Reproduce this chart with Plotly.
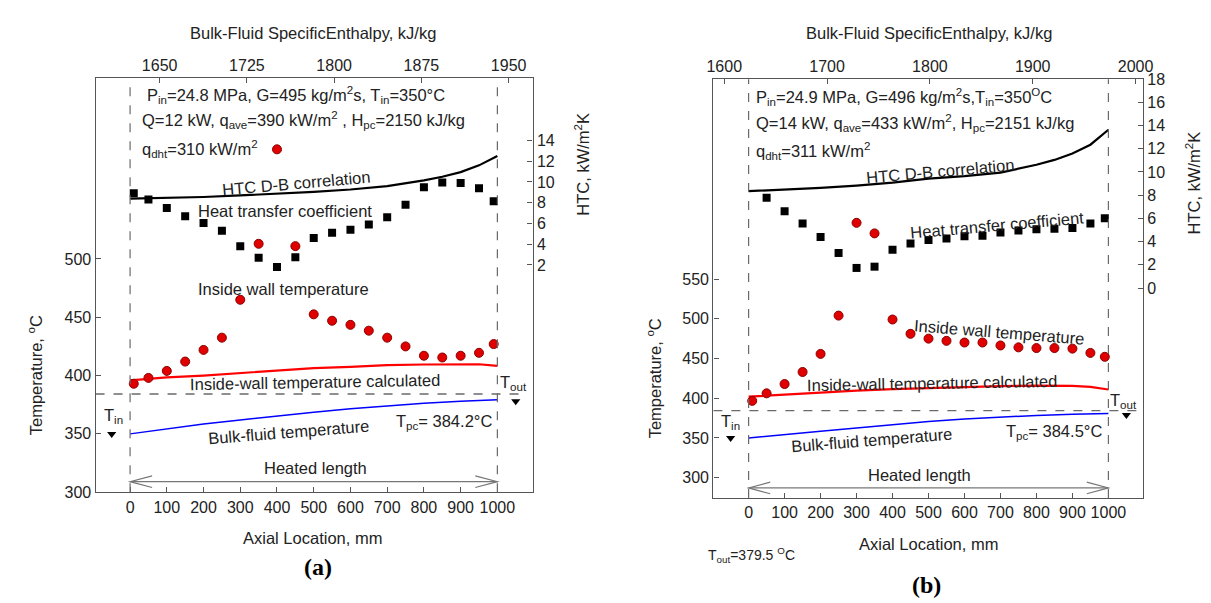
import plotly.graph_objects as go

W, H = 1211, 603

# ---------------- data: panel (a) ----------------
A_X_PTS = [10, 50, 100, 150, 200, 250, 300, 350, 400, 450, 500, 550, 600, 650, 700, 750, 800, 850, 900, 950, 990]
A_HTC = [8.9, 8.3, 7.5, 6.7, 6.05, 5.3, 3.8, 2.7, 1.8, 2.75, 4.6, 5.1, 5.4, 5.9, 6.6, 7.8, 9.5, 9.95, 9.9, 9.4, 8.15]
A_TW = [393, 398, 404, 412, 422, 432.5, 465, 513, 594, 511, 452.5, 447, 443.5, 438.5, 432.5, 425, 417, 415.5, 417, 419.5, 427]
A_LINE_X = [0, 100, 200, 300, 400, 500, 600, 700, 800, 850, 900, 950, 1000]
A_DB = [8.39, 8.45, 8.55, 8.7, 8.86, 9.05, 9.27, 9.6, 10.15, 10.5, 10.95, 11.6, 12.5]
A_TW_CALC = [395.8, 398.5, 400, 402.2, 404.2, 406.4, 407.5, 408.9, 409.5, 409.4, 409.2, 409.7, 408.3]
A_BULK_X = [0, 100, 200, 300, 400, 500, 600, 700, 800, 900, 1000]
A_BULK = [350, 354.5, 358.5, 362, 365.5, 368.6, 371.5, 374, 376.2, 378, 379.2]
A_TPC = 384.2
A_TIN, A_TOUT = 350, 378
A_ENTH_TICKS = [1650, 1725, 1800, 1875, 1950]

# ---------------- data: panel (b) ----------------
B_X_HTC = [50, 100, 150, 200, 250, 300, 350, 400, 450, 500, 550, 600, 650, 700, 750, 800, 850, 900, 950, 990]
B_HTC = [7.77, 6.62, 5.56, 4.39, 3.02, 1.73, 1.84, 3.3, 3.83, 4.14, 4.27, 4.47, 4.5, 4.78, 4.95, 5.06, 5.11, 5.17, 5.56, 6.01]
B_X_TW = [10, 50, 100, 150, 200, 250, 300, 350, 400, 450, 500, 550, 600, 650, 700, 750, 800, 850, 900, 950, 990]
B_TW = [396.7, 406.2, 417.9, 433.1, 455.9, 504.1, 621, 607.7, 499.2, 481.2, 475.1, 472.3, 470.2, 470.2, 466.5, 464.1, 463.2, 463.2, 462.5, 457.1, 452.2]
B_LINE_X = [0, 100, 200, 300, 400, 500, 600, 700, 800, 850, 900, 950, 1000]
B_DB = [8.35, 8.47, 8.63, 8.83, 9.08, 9.42, 9.64, 9.95, 10.62, 11.04, 11.6, 12.35, 13.64]
B_TW_CALC = [402, 404.5, 407.4, 409.5, 411.4, 413, 414.3, 415.3, 416, 415.8, 415.5, 414.3, 411]
B_BULK_X = [0, 100, 200, 300, 400, 500, 600, 700, 800, 900, 1000]
B_BULK = [349.8, 354.5, 358.5, 362.5, 366.8, 370.6, 373.7, 376.3, 378.4, 379.8, 380.8]
B_TPC = 384.5
B_TIN, B_TOUT = 350, 379
B_ENTH_TICKS = [1600, 1700, 1800, 1900, 2000]

AXIAL_TICKS = list(range(0, 1001, 100))
HEATED = [0, 1000]
T_IN_X, T_OUT_X = -50, 1050

FONT = "Liberation Sans, Arial, sans-serif"
FRAME = "#555555"
DASH = "#6a6a6a"

fig = go.Figure()


def add_panel(fig, xb, xt, yl, yr, pts_x, htc, tw_x, tw, line_x, db, twc, bulk_x, bulk, tin, tout, enth_ticks):
    fig.add_trace(go.Scatter(x=line_x, y=db, xaxis=xb, yaxis=yr, mode="lines",
                             line=dict(color="black", width=2.2), hoverinfo="skip", showlegend=False))
    fig.add_trace(go.Scatter(x=pts_x, y=htc, xaxis=xb, yaxis=yr, mode="markers",
                             marker=dict(symbol="square", size=8, color="black"), showlegend=False))
    fig.add_trace(go.Scatter(x=line_x, y=twc, xaxis=xb, yaxis=yl, mode="lines",
                             line=dict(color="#ff0000", width=2.2), showlegend=False))
    fig.add_trace(go.Scatter(x=bulk_x, y=bulk, xaxis=xb, yaxis=yl, mode="lines",
                             line=dict(color="#0000ff", width=1.5), showlegend=False))
    fig.add_trace(go.Scatter(x=tw_x, y=tw, xaxis=xb, yaxis=yl, mode="markers",
                             marker=dict(symbol="circle", size=9, color="#e00000",
                                         line=dict(color="#8b0000", width=1)), showlegend=False))
    fig.add_trace(go.Scatter(x=[T_IN_X, T_OUT_X], y=[tin, tout], xaxis=xb, yaxis=yl, mode="markers",
                             marker=dict(symbol="triangle-down", size=8, color="black"), showlegend=False))
    # invisible trace so the top enthalpy axis is drawn
    fig.add_trace(go.Scatter(x=[enth_ticks[0], enth_ticks[-1]], y=[None, None], xaxis=xt, yaxis=yl,
                             mode="markers", marker=dict(opacity=0), hoverinfo="skip", showlegend=False))


add_panel(fig, "x", "x2", "y", "y2", A_X_PTS, A_HTC, A_X_PTS, A_TW, A_LINE_X, A_DB, A_TW_CALC,
          A_BULK_X, A_BULK, A_TIN, A_TOUT, A_ENTH_TICKS)
add_panel(fig, "x3", "x4", "y3", "y4", B_X_HTC, B_HTC, B_X_TW, B_TW, B_LINE_X, B_DB, B_TW_CALC,
          B_BULK_X, B_BULK, B_TIN, B_TOUT, B_ENTH_TICKS)

tickfont = dict(family=FONT, size=16, color="#222")
common = dict(showgrid=False, zeroline=False, showline=True, linecolor=FRAME, linewidth=1.3,
              ticks="inside", ticklen=5, tickcolor=FRAME, tickfont=tickfont)

A_DOM_X = [81.7 / W, 525 / W]
A_DOM_Y = [1 - 490 / H, 1 - 64 / H]
B_DOM_X = [708.3 / W, 1144 / W]
B_DOM_Y = [1 - 496 / H, 1 - 65 / H]

fig.update_layout(
    width=W, height=H, margin=dict(l=0, r=0, t=0, b=0),
    paper_bgcolor="white", plot_bgcolor="white", showlegend=False,
    font=dict(family=FONT, size=16, color="#222"),
    xaxis=dict(domain=A_DOM_X, anchor="y", range=[-94, 1096], tickvals=AXIAL_TICKS, **common),
    xaxis2=dict(overlaying="x", side="top", anchor="y", range=[1594.9, 1970.6], tickvals=A_ENTH_TICKS, **common),
    yaxis=dict(domain=A_DOM_Y, anchor="x", range=[300, 655], tickvals=[300, 350, 400, 450, 500], **common),
    yaxis2=dict(overlaying="y", side="right", anchor="x", range=[-19.9, 20], tickvals=list(range(2, 15, 2)), **common),
    xaxis3=dict(domain=B_DOM_X, anchor="y3", range=[-98, 1096], tickvals=AXIAL_TICKS, **common),
    xaxis4=dict(overlaying="x3", side="top", anchor="y3", range=[1589.4, 2007.2], tickvals=B_ENTH_TICKS, **common),
    yaxis3=dict(domain=B_DOM_Y, anchor="x3", range=[274.3, 802], tickvals=[300, 350, 400, 450, 500, 550], **common),
    yaxis4=dict(overlaying="y3", side="right", anchor="x3", range=[-18.1, 18], tickvals=list(range(0, 19, 2)), **common),
)

shapes = []


def panel_shapes(xr, yr, tpc, x_left, arrow_y, head_dx, head_dy):
    for xv in HEATED:
        shapes.append(dict(type="line", xref=xr, yref=yr + " domain", x0=xv, x1=xv, y0=0, y1=1,
                           line=dict(color=DASH, width=1.2, dash="dash")))
    shapes.append(dict(type="line", xref=xr, yref=yr, x0=x_left, x1=1078, y0=tpc, y1=tpc,
                       line=dict(color=DASH, width=1.3, dash="dash")))
    shapes.append(dict(type="line", xref=xr, yref=yr, x0=HEATED[0], x1=HEATED[1], y0=arrow_y, y1=arrow_y,
                       line=dict(color="#777", width=1.2)))
    l, r = HEATED
    shapes.append(dict(type="path", xref=xr, yref=yr,
                       path=f"M{l + head_dx},{arrow_y + head_dy} L{l},{arrow_y} L{l + head_dx},{arrow_y - head_dy}",
                       line=dict(color="#777", width=1.2)))
    shapes.append(dict(type="path", xref=xr, yref=yr,
                       path=f"M{r - head_dx},{arrow_y + head_dy} L{r},{arrow_y} L{r - head_dx},{arrow_y - head_dy}",
                       line=dict(color="#777", width=1.2)))


panel_shapes("x", "y", A_TPC, -94, 309, 60, 5)
panel_shapes("x3", "y3", B_TPC, -98, 287, 60, 7.3)
fig.update_layout(shapes=shapes)

ann = []
TS = 16.5


def t(text, x, y, xref, yref, size=TS, angle=0, xanchor="center", yanchor="middle", family=FONT, color="#222"):
    ann.append(dict(text=text, x=x, y=y, xref=xref, yref=yref, showarrow=False, textangle=angle,
                    xanchor=xanchor, yanchor=yanchor, font=dict(family=family, size=size, color=color)))


def px(x, y, text, **kw):
    t(text, x / W, 1 - y / H, "paper", "paper", **kw)


# panel (a) annotations
t("P<sub>in</sub>=24.8 MPa, G=495 kg/m<sup>2</sup>s, T<sub>in</sub>=350°C", 40, 641, "x", "y", xanchor="left")
t("Q=12 kW, q<sub>ave</sub>=390 kW/m<sup>2</sup> , H<sub>pc</sub>=2150 kJ/kg", 28, 619.5, "x", "y", xanchor="left")
t("q<sub>dht</sub>=310 kW/m<sup>2</sup>", 28, 594.5, "x", "y", xanchor="left")
t("HTC D-B correlation", 454, 565.5, "x", "y", angle=-5)
t("Heat transfer coefficient", 423, 541, "x", "y")
t("Inside wall temperature", 418, 474.5, "x", "y")
t("Inside-wall temperature calculated", 504, 394.5, "x", "y", angle=-1)
t("T<sub>pc</sub>= 384.2°C", 854, 360.5, "x", "y")
t("Bulk-fluid temperature", 430, 351.5, "x", "y", angle=-4.5)
t("Heated length", 504, 320.5, "x", "y")
t("T<sub>in</sub>", -46, 365, "x", "y")
t("T<sub>out</sub>", 1043, 393.5, "x", "y")

px(302, 17, "Bulk-Fluid SpecificEnthalpy, kJ/kg", size=16.5)
px(302, 537, "Axial Location, mm", size=16.5)
px(20, 370, "Temperature, <sup>o</sup>C", size=16.5, angle=-90)
px(575, 152, "HTC, kW/m<sup>2</sup>K", size=16.5, angle=-90)
px(307, 567, "<b>(a)</b>", size=24, family="Liberation Serif, Times New Roman, serif", color="black")

# panel (b) annotations
t("P<sub>in</sub>=24.9 MPa, G=496 kg/m<sup>2</sup>s,T<sub>in</sub>=350<sup>O</sup>C", 15, 779.5, "x3", "y3", xanchor="left")
t("Q=14 kW, q<sub>ave</sub>=433 kW/m<sup>2</sup>, H<sub>pc</sub>=2151 kJ/kg", 15, 747, "x3", "y3", xanchor="left")
t("q<sub>dht</sub>=311 kW/m<sup>2</sup>", 15, 712, "x3", "y3", xanchor="left")
t("HTC D-B correlation", 532, 686.5, "x3", "y3", angle=-5)
t("Heat transfer coefficient", 691, 618.5, "x3", "y3", angle=-5)
t("Inside wall temperature", 697, 484, "x3", "y3", angle=4.5)
t("Inside-wall temperature calculated", 511, 419, "x3", "y3", angle=-1)
t("T<sub>pc</sub>= 384.5°C", 848, 358, "x3", "y3")
t("Bulk-fluid temperature", 341, 347, "x3", "y3", angle=-4.5)
t("Heated length", 475, 303, "x3", "y3")
t("T<sub>in</sub>", -51, 370.5, "x3", "y3")
t("T<sub>out</sub>", 1043, 396, "x3", "y3")

px(927, 17, "Bulk-Fluid SpecificEnthalpy, kJ/kg", size=16.5)
px(927, 543, "Axial Location, mm", size=16.5)
px(649, 373, "Temperature, <sup>o</sup>C", size=16.5, angle=-90)
px(1195, 172, "HTC, kW/m<sup>2</sup>K", size=16.5, angle=-90)
px(747, 555, "T<sub>out</sub>=379.5 <sup>O</sup>C", size=14)
px(924, 585, "<b>(b)</b>", size=24, family="Liberation Serif, Times New Roman, serif", color="black")

fig.update_layout(annotations=ann)
fig.write_html("out.html")
